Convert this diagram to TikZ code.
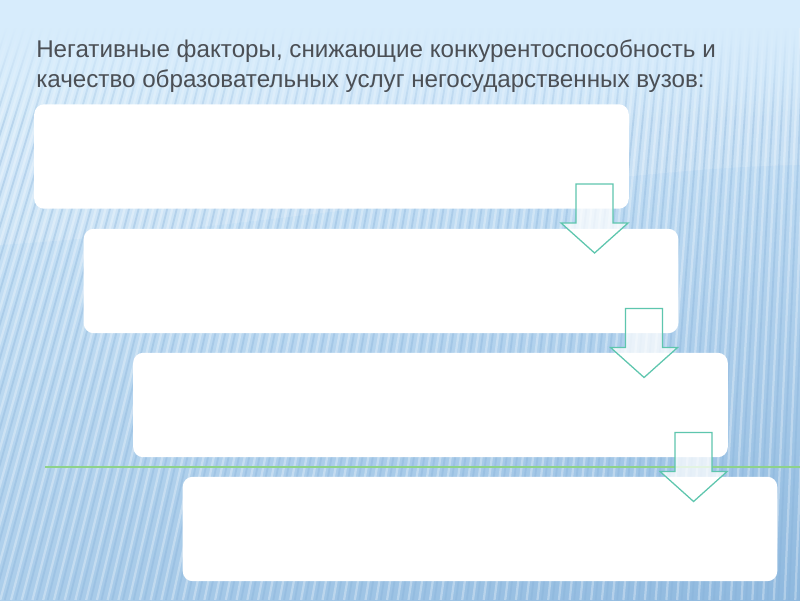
\documentclass[tikz,border=0pt]{standalone}
\usepackage{fontspec}
\setmainfont{Liberation Sans}
\usetikzlibrary{calc,fadings,shadings}
\definecolor{bgul}{HTML}{D8EDFC}
\definecolor{bgur}{HTML}{CFE7FA}
\definecolor{bgll}{HTML}{ABCDEA}
\definecolor{bglr}{HTML}{8EB8DE}
\definecolor{bgtop}{HTML}{D7ECFC}
\definecolor{stripedark}{HTML}{86B1D9}
\definecolor{arrowline}{HTML}{5EC6AE}
\definecolor{greenline}{HTML}{8ED28A}
\definecolor{titlegray}{HTML}{4B4F55}
\tikzset{
 panel/.style={fill=white, rounded corners=0.25cm, minimum width=14.86cm, minimum height=2.61cm, inner sep=0pt},
 downarrow/.style={draw=arrowline, line width=0.9pt, fill=white, fill opacity=0.75, line join=miter},
 stripelight/.style={white, opacity=0.3, line width=1.6pt},
 stripedk/.style={stripedark, opacity=0.35, line width=1.3pt},
 ruleline/.style={greenline, line width=1.1pt},
}
\begin{document}
\begin{tikzpicture}[x=0.025cm,y=-0.025cm]
\useasboundingbox (0,0) rectangle (800,600);
\begin{scope}
\clip (0,0) rectangle (800,600);
\shade[upper left=bgul, upper right=bgur, lower left=bgll, lower right=bglr] (0,0) rectangle (800,600);
\fill[white, opacity=0.14] (0,0) -- (800,0) -- (800,165) .. controls (600,168) and (300,225) .. (0,245) -- cycle;
\foreach \i in {-200,-191,...,1000}{
  \pgfmathsetmacro\s{180-0.19375*\i}
  \pgfmathsetmacro\t{\s*20/560}
  \draw[stripelight] ({\i+\t},20) -- ({\i-\s},600);
  \draw[stripedk] ({\i+4.5+\t},20) -- ({\i+4.5-\s},600);
}
\fill[bgtop] (0,0) rectangle (800,28);
\fill[bgtop, path fading=south] (0,27) rectangle (800,125);
\end{scope}
\node[anchor=base west, align=left, font=\fontsize{17.2}{21}\selectfont, text=titlegray, inner sep=0pt] (title) at (36,87)
 {Негативные факторы, снижающие конкурентоспособность и\\качество образовательных услуг негосударственных вузов:};
\node[panel] (b1) at (331.5,156.5) {};
\node[panel] (b2) at (381,281) {};
\node[panel] (b3) at (430.5,405) {};
\node[panel] (b4) at (480,529) {};
\coordinate (l1) at (45,467);
\coordinate (l2) at (800,467);
\draw[ruleline] (l1) -- (l2);
\foreach \b/\a in {b1/a1,b2/a2,b3/a3}{
  \coordinate (\a) at ($(\b.south east)+(-34.5,-25)$);
  \draw[downarrow, shift={(\a)}] (-18.5,0) -- (18.5,0) -- (18.5,39) -- (33.5,39) -- (0,69) -- (-33.5,39) -- (-18.5,39) -- cycle;
}
\end{tikzpicture}
\end{document}
